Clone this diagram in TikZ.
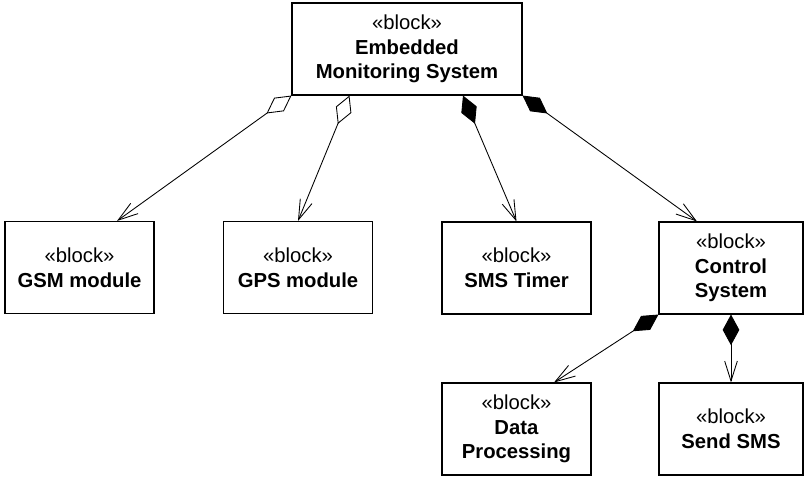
\documentclass[tikz,border=0pt]{standalone}
\usepackage{fontspec}
\setmainfont{Liberation Sans}
\usetikzlibrary{arrows.meta,calc}
\begin{document}
\begin{tikzpicture}[x=0.75pt,y=-0.75pt,
  blk/.style={draw, line width=0.8pt, inner sep=0pt, align=center,
    font=\fontsize{15.2}{18.4}\selectfont, minimum height=69pt},
  wblk/.style={blk, minimum width=111.75pt},
  agg/.style={line width=0.65pt, {Diamond[open,length=23pt,width=12.5pt,line width=0.65pt]}-{Straight Barb[length=15pt,width=9.5pt,line width=0.65pt]}},
  comp/.style={line width=0.65pt, {Diamond[fill=black,length=23pt,width=12.5pt]}-{Straight Barb[length=15pt,width=9.5pt,line width=0.65pt]}}]
\useasboundingbox (0,0) rectangle (804,476);
\fill[white] (0,0) rectangle (804,476);
\node[blk, minimum width=172.5pt] (top) at (407,49) {«block»\\\textbf{Embedded}\\\textbf{Monitoring System}};
\node[wblk] (gsm) at (79.5,267.5) {«block»\\\textbf{GSM module}};
\node[wblk] (gps) at (298,267.5) {«block»\\\textbf{GPS module}};
\node[wblk] (timer) at (516.5,268) {«block»\\\textbf{SMS Timer}};
\node[blk, minimum width=108pt] (ctrl) at (731,268) {«block»\\\textbf{Control}\\\textbf{System}};
\node[wblk] (data) at (516.5,429) {«block»\\\textbf{Data}\\\textbf{Processing}};
\node[blk, minimum width=108pt] (send) at (731,429) {«block»\\\textbf{Send SMS}};
\draw[agg] (top.south west) -- ($(gsm.north)+(37.5,0)$);
\draw[agg] ($(top.south west)+(58,0)$) -- (gps.north);
\draw[comp] ($(top.south)+(56,0)$) -- (timer.north);
\draw[comp] (top.south east) -- ($(ctrl.north)+(-34,0)$);
\draw[comp] (ctrl.south west) -- ($(data.north)+(37.5,0)$);
\draw[comp] (ctrl.south) -- (send.north);
\end{tikzpicture}
\end{document}
